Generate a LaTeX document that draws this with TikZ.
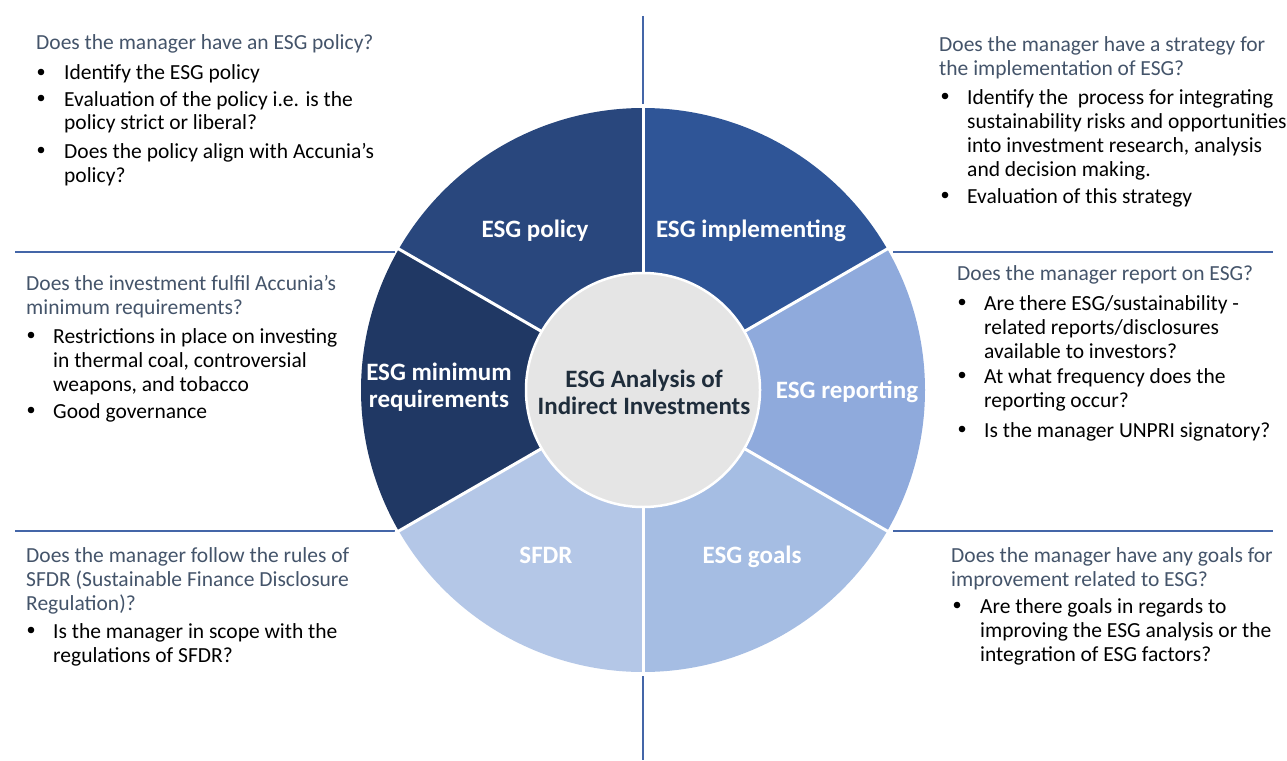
\documentclass[tikz,border=0pt]{standalone}
\usepackage{fontspec}
\setmainfont{Carlito}
\definecolor{cpol}{HTML}{29477D}
\definecolor{cimp}{HTML}{2F5597}
\definecolor{crep}{HTML}{8FAADC}
\definecolor{cgoal}{HTML}{A5BDE3}
\definecolor{csfdr}{HTML}{B4C7E7}
\definecolor{cmin}{HTML}{203864}
\definecolor{cgray}{HTML}{E5E5E5}
\definecolor{ttlcol}{HTML}{44546A}
\definecolor{linecol}{HTML}{4466A8}
\definecolor{ctrtxt}{HTML}{1F2D3B}
\newcommand{\tl}[1]{\begin{tabular}[t]{@{}l@{}}#1\end{tabular}}
\newcommand{\tc}[1]{\begin{tabular}[t]{@{}c@{}}#1\end{tabular}}
\tikzset{
  ttl/.style={anchor=base west, inner sep=0, text=ttlcol, font=\fontsize{21.5}{24}\selectfont},
  itm/.style={anchor=base west, inner sep=0, text=black, font=\fontsize{21.5}{24}\selectfont},
  lbl/.style={anchor=base, inner sep=0, text=white, font=\bfseries\fontsize{25}{27}\selectfont},
  sepline/.style={draw=linecol, line width=2},
  gap/.style={draw=white, line width=3}
}
\newcommand{\bul}[2]{\fill (#1,#2-8) circle[radius=3.3];}
\begin{document}
\begin{tikzpicture}[x=1pt,y=-1pt]
\useasboundingbox (0,0) rectangle (1287,760);
\fill[white] (0,0) rectangle (1287,760);

% separator lines
\draw[sepline] (643,16) -- (643,108);
\draw[sepline] (643,672) -- (643,760);
\draw[sepline] (15,252) -- (395,252);
\draw[sepline] (893,252) -- (1273,252);
\draw[sepline] (15,531) -- (395,531);
\draw[sepline] (893,531) -- (1273,531);

% ring segments
\begin{scope}[shift={(643,390)}, yscale=-1]
  \fill[cimp]  (0,0) -- (30:282)  arc[start angle=30,  end angle=90,  radius=282] -- cycle;
  \fill[cpol]  (0,0) -- (90:282)  arc[start angle=90,  end angle=150, radius=282] -- cycle;
  \fill[cmin]  (0,0) -- (150:282) arc[start angle=150, end angle=210, radius=282] -- cycle;
  \fill[csfdr] (0,0) -- (210:282) arc[start angle=210, end angle=270, radius=282] -- cycle;
  \fill[cgoal] (0,0) -- (270:282) arc[start angle=270, end angle=330, radius=282] -- cycle;
  \fill[crep]  (0,0) -- (330:282) arc[start angle=330, end angle=390, radius=282] -- cycle;
  \foreach \a in {30,90,150,210,270,330} \draw[gap] (0,0) -- (\a:286);
\end{scope}
\node[circle, fill=cgray, draw=white, line width=2.5, minimum size=234, inner sep=0] (ctr) at (643,390) {};
\node[lbl, text=ctrtxt] (ctrtext) at (644,387) {\tc{ESG Analysis of\\Indirect Investments}};

% segment labels
\node[lbl] (lpol) at (535,237) {ESG policy};
\node[lbl] (limp) at (751,237) {ESG implementing};
\node[lbl] (lmin) at (439,380) {\tc{ESG minimum\\requirements}};
\node[lbl] (lrep) at (847,398) {ESG reporting};
\node[lbl] (lsfdr) at (546,563) {SFDR};
\node[lbl] (lgoal) at (752,563) {ESG goals};

% top left
\node[ttl] (t1) at (36,50) {Does the manager have an ESG policy?};
\node[itm] (t1a) at (64,80) {Identify the ESG policy};
\node[itm] (t1b) at (64,106) {\tl{Evaluation of the policy i.e. is the\\policy strict or liberal?}};
\node[itm] (t1c) at (64,158) {\tl{Does the policy align with Accunia’s\\policy?}};
\bul{41}{80}\bul{41}{106}\bul{41}{158}

% top right
\node[ttl] (t2) at (939,52) {\tl{Does the manager have a strategy for\\the implementation of ESG?}};
\node[itm] (t2a) at (967,104) {\tl{Identify the~ process for integrating\\sustainability risks and opportunities\\into investment research, analysis\\and decision making.}};
\node[itm] (t2b) at (967,203) {Evaluation of this strategy};
\bul{945}{104}\bul{945}{203}

% middle left
\node[ttl] (t3) at (26,290) {\tl{Does the investment fulfil Accunia’s\\minimum requirements?}};
\node[itm] (t3a) at (53,343) {\tl{Restrictions in place on investing\\in thermal coal, controversial\\weapons, and tobacco}};
\node[itm] (t3b) at (53,418) {Good governance};
\bul{31}{343}\bul{31}{418}

% middle right
\node[ttl] (t4) at (957,280) {Does the manager report on ESG?};
\node[itm] (t4a) at (984,310) {\tl{Are there ESG/sustainability -\\related reports/disclosures\\available to investors?}};
\node[itm] (t4b) at (984,383) {\tl{At what frequency does the\\reporting occur?}};
\node[itm] (t4c) at (984,437) {Is the manager UNPRI signatory?};
\bul{962}{310}\bul{962}{383}\bul{962}{437}

% bottom left
\node[ttl] (t5) at (26,562) {\tl{Does the manager follow the rules of\\SFDR (Sustainable Finance Disclosure\\Regulation)?}};
\node[itm] (t5a) at (53,638) {\tl{Is the manager in scope with the\\regulations of SFDR?}};
\bul{31}{638}

% bottom right
\node[ttl] (t6) at (951,562) {\tl{Does the manager have any goals for\\improvement related to ESG?}};
\node[itm] (t6a) at (980,613) {\tl{Are there goals in regards to\\improving the ESG analysis or the\\integration of ESG factors?}};
\bul{957}{613}
\end{tikzpicture}
\end{document}
